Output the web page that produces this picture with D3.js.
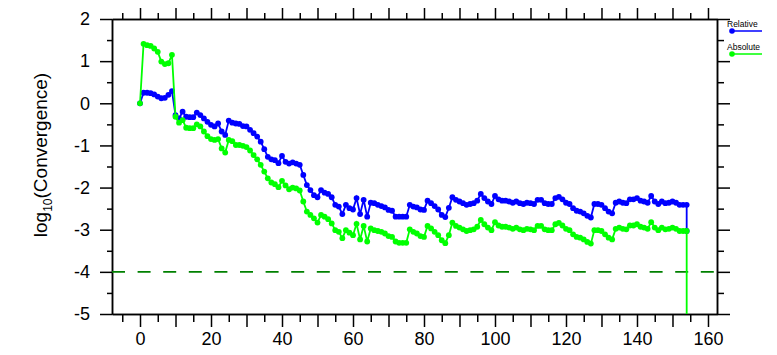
<!DOCTYPE html>
<html>
<head>
<meta charset="utf-8">
<script src="https://cdn.jsdelivr.net/npm/d3@7"></script>
<style>
  html, body { margin: 0; padding: 0; background: #ffffff; }
  svg { display: block; }
  text { font-family: "Liberation Sans", Arial, sans-serif; }
</style>
</head>
<body>
<svg id="chart" width="777" height="355"></svg>
<script>
// ---------------- data ----------------
const seriesNames = ["Relative", "Absolute"];
const seriesColors = ["#0000ff", "#00ff00"];

// iteration index (last point repeats 154: the final drop)
const iterations = d3.range(0, 155).concat([154]);

const relative = [
  0.00, 0.25, 0.25, 0.24, 0.21, 0.16, 0.12, 0.13, 0.20, 0.29,
 -0.28,-0.36,-0.20,-0.32,-0.33,-0.33,-0.22,-0.28,-0.36,-0.44,
 -0.51,-0.55,-0.48,-0.67,-0.75,-0.41,-0.46,-0.48,-0.49,-0.54,
 -0.55,-0.63,-0.71,-0.79,-0.91,-1.09,-1.27,-1.33,-1.35,-1.42,
 -1.25,-1.39,-1.43,-1.40,-1.43,-1.46,-1.70,-1.94,-2.06,-2.18,
 -2.23,-2.06,-2.12,-2.15,-2.23,-2.41,-2.45,-2.63,-2.41,-2.49,
 -2.52,-2.25,-2.63,-2.29,-2.69,-2.36,-2.37,-2.41,-2.44,-2.47,
 -2.53,-2.55,-2.69,-2.69,-2.69,-2.69,-2.41,-2.45,-2.47,-2.52,
 -2.53,-2.31,-2.37,-2.44,-2.52,-2.65,-2.70,-2.48,-2.23,-2.29,
 -2.33,-2.37,-2.41,-2.39,-2.37,-2.31,-2.15,-2.25,-2.33,-2.39,
 -2.20,-2.28,-2.31,-2.31,-2.33,-2.36,-2.33,-2.37,-2.39,-2.36,
 -2.37,-2.39,-2.29,-2.29,-2.37,-2.39,-2.39,-2.25,-2.22,-2.28,
 -2.36,-2.39,-2.49,-2.55,-2.57,-2.61,-2.67,-2.71,-2.39,-2.39,
 -2.41,-2.49,-2.57,-2.61,-2.36,-2.33,-2.36,-2.37,-2.28,-2.28,
 -2.25,-2.31,-2.33,-2.36,-2.20,-2.33,-2.39,-2.33,-2.37,-2.36,
 -2.33,-2.36,-2.41,-2.41,-2.41,-3.03
];

const absolute = [
  0.00, 1.41, 1.38, 1.36, 1.30, 1.22, 0.99, 0.93, 0.95, 1.15,
 -0.32,-0.46,-0.40,-0.58,-0.59,-0.59,-0.50,-0.55,-0.67,-0.78,
 -0.85,-0.87,-0.85,-1.07,-1.17,-0.87,-0.90,-0.99,-0.99,-1.01,
 -1.04,-1.12,-1.23,-1.33,-1.46,-1.62,-1.78,-1.88,-1.92,-1.99,
 -1.84,-1.95,-2.04,-2.00,-2.02,-2.07,-2.33,-2.57,-2.65,-2.73,
 -2.83,-2.65,-2.69,-2.75,-2.85,-3.01,-3.05,-3.20,-3.01,-3.07,
 -3.13,-2.86,-3.23,-2.91,-3.28,-2.97,-3.01,-3.03,-3.05,-3.09,
 -3.15,-3.17,-3.28,-3.31,-3.31,-3.31,-2.99,-3.05,-3.09,-3.15,
 -3.17,-2.91,-2.97,-3.05,-3.13,-3.25,-3.32,-3.13,-2.83,-2.91,
 -2.95,-2.99,-3.03,-3.01,-2.99,-2.93,-2.77,-2.87,-2.95,-3.01,
 -2.82,-2.90,-2.93,-2.93,-2.95,-2.98,-2.95,-2.99,-3.01,-2.98,
 -2.99,-3.01,-2.91,-2.91,-2.99,-3.01,-3.01,-2.87,-2.84,-2.90,
 -2.98,-3.01,-3.11,-3.17,-3.19,-3.23,-3.29,-3.33,-3.01,-3.01,
 -3.03,-3.11,-3.19,-3.23,-2.98,-2.95,-2.98,-2.99,-2.90,-2.90,
 -2.87,-2.93,-2.95,-2.98,-2.82,-2.95,-3.01,-2.95,-2.99,-2.98,
 -2.95,-2.98,-3.03,-3.03,-3.03,-5.60
];

const thresholdValue = -4;
const xMajorTicks = [0,10,20,30,40,50,60,70,80,90,100,110,120,130,140,150,160];
const xLabelTicks = [0,20,40,60,80,100,120,140,160];
const xMinorTicks = [-5,5,15,25,35,45,55,65,75,85,95,105,115,125,135,145,155];
const yMajorTicks = [-5,-4,-3,-2,-1,0,1,2];
const yMinorTicks = [-4.5,-3.5,-2.5,-1.5,-0.5,0.5,1.5];

// ---------------- layout ----------------
(function () {
const svg = d3.select("#chart");
const pL = 112, pR = 717, pT = 19, pB = 314;
const x = d3.scaleLinear().domain([-7.89, 162.54]).range([pL, pR]);
const y = d3.scaleLinear().domain([-5, 2]).range([pB, pT]);
const fontSize = 18;

svg.append("defs").append("clipPath").attr("id", "plotclip")
  .append("rect").attr("x", pL).attr("y", pT)
  .attr("width", pR - pL).attr("height", pB - pT);

function styleAxis(g) {
  g.selectAll("path.domain").attr("stroke", "#000").attr("stroke-width", 1.5);
  g.selectAll(".tick line").attr("stroke", "#000").attr("stroke-width", 1.5);
  g.selectAll("text").attr("font-size", fontSize).attr("fill", "#000")
    .attr("font-family", '"Liberation Sans", Arial, sans-serif');
}

// bottom axis
const gB = svg.append("g").attr("transform", `translate(0,${pB})`)
  .call(d3.axisBottom(x).tickValues(xMajorTicks).tickSize(13).tickSizeOuter(0).tickPadding(5)
    .tickFormat(d => xLabelTicks.includes(d) ? String(d) : ""));
styleAxis(gB);
const gBm = svg.append("g").attr("transform", `translate(0,${pB})`)
  .call(d3.axisBottom(x).tickValues(xMinorTicks).tickSize(8).tickSizeOuter(0).tickFormat(""));
styleAxis(gBm);

// top axis
const gT = svg.append("g").attr("transform", `translate(0,${pT})`)
  .call(d3.axisTop(x).tickValues(xMajorTicks).tickSize(11).tickSizeOuter(0).tickFormat(""));
styleAxis(gT);
const gTm = svg.append("g").attr("transform", `translate(0,${pT})`)
  .call(d3.axisTop(x).tickValues(xMinorTicks).tickSize(6).tickSizeOuter(0).tickFormat(""));
styleAxis(gTm);

// left axis (plain hyphen-minus like the original)
const gL = svg.append("g").attr("transform", `translate(${pL},0)`)
  .call(d3.axisLeft(y).tickValues(yMajorTicks).tickSize(12).tickSizeOuter(0).tickPadding(10)
    .tickFormat(d => String(d)));
styleAxis(gL);
const gLm = svg.append("g").attr("transform", `translate(${pL},0)`)
  .call(d3.axisLeft(y).tickValues(yMinorTicks).tickSize(5).tickSizeOuter(0).tickFormat(""));
styleAxis(gLm);

// right axis
const gR = svg.append("g").attr("transform", `translate(${pR},0)`)
  .call(d3.axisRight(y).tickValues(yMajorTicks).tickSize(13).tickSizeOuter(0).tickFormat(""));
styleAxis(gR);
const gRm = svg.append("g").attr("transform", `translate(${pR},0)`)
  .call(d3.axisRight(y).tickValues(yMinorTicks).tickSize(7).tickSizeOuter(0).tickFormat(""));
styleAxis(gRm);

// y label
const yl = svg.append("text")
  .attr("transform", `translate(47,155) rotate(-90)`)
  .attr("text-anchor", "middle")
  .attr("font-size", 19).attr("fill", "#000");
yl.append("tspan").text("log");
yl.append("tspan").attr("font-size", 12).attr("dy", 5).text("10");
yl.append("tspan").attr("dy", -5).text("(Convergence)");

// threshold line
svg.append("line")
  .attr("x1", pL).attr("x2", pR)
  .attr("y1", y(thresholdValue)).attr("y2", y(thresholdValue))
  .attr("stroke", "#008000").attr("stroke-width", 1.6)
  .attr("stroke-dasharray", "13,12.6");

// series
const plot = svg.append("g").attr("clip-path", "url(#plotclip)");
const seriesData = [relative, absolute];
seriesData.forEach((vals, si) => {
  const pts = vals.map((v, i) => [iterations[i], v]);
  plot.append("path").datum(pts)
    .attr("fill", "none").attr("stroke", seriesColors[si]).attr("stroke-width", 1.8)
    .attr("d", d3.line().x(d => x(d[0])).y(d => y(d[1])));
  plot.append("g").selectAll("circle").data(pts.filter(d => d[1] >= -5)).join("circle")
    .attr("cx", d => x(d[0])).attr("cy", d => y(d[1])).attr("r", 2.9)
    .attr("fill", seriesColors[si]);
});

// legend
const legendY = [31, 54];
seriesNames.forEach((name, i) => {
  svg.append("text").attr("x", 727).attr("y", legendY[i] - 4.5)
    .attr("font-size", 8.5).attr("fill", "#000").text(name);
  svg.append("line").attr("x1", 732).attr("x2", 762)
    .attr("y1", legendY[i]).attr("y2", legendY[i])
    .attr("stroke", seriesColors[i]).attr("stroke-width", 1.5);
  svg.append("circle").attr("cx", 732).attr("cy", legendY[i]).attr("r", 2.8)
    .attr("fill", seriesColors[i]);
});
})();
</script>
</body>
</html>
